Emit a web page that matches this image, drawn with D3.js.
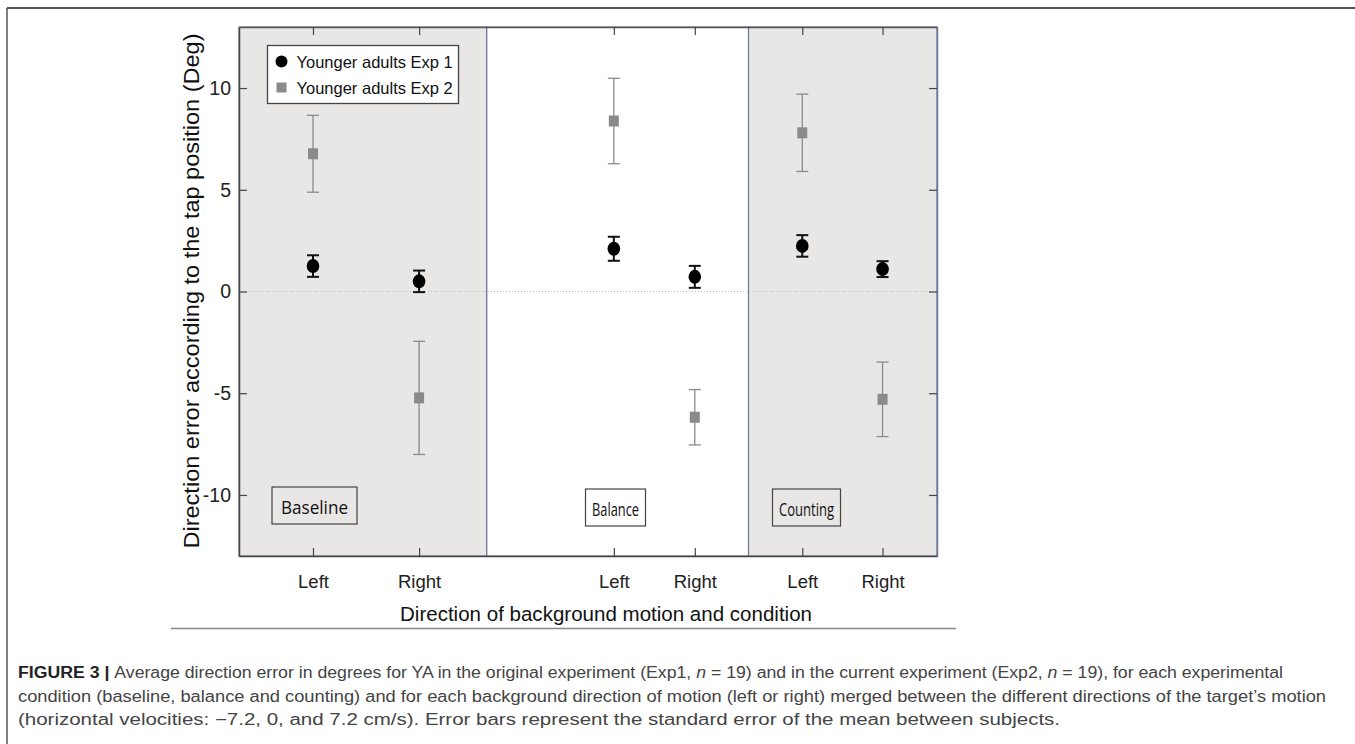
<!DOCTYPE html>
<html>
<head>
<meta charset="utf-8">
<script src="https://cdn.jsdelivr.net/npm/d3@7"></script>
<style>
    body { margin: 0; background: #fff; }
    text { font-family: "Liberation Sans", Arial, sans-serif; }
</style>
</head>
<body>
<script>
// data
var conditions = ['Baseline', 'Balance', 'Counting'],
    directions = ['Left', 'Right', 'Left', 'Right', 'Left', 'Right'],
    xPos = [1.06, 2.58, 5.37, 6.53, 8.07, 9.22],          // category positions on the x axis
    panelEdges = [0, 3.55, 7.3, 10],
    exp1Mean = [1.25, 0.5, 2.1, 0.72, 2.24, 1.1],
    exp1Se = [0.53, 0.53, 0.59, 0.54, 0.53, 0.39],
    exp2Mean = [6.77, -5.23, 8.38, -6.18, 7.8, -5.3],
    exp2Se = [1.89, 2.78, 2.1, 1.36, 1.9, 1.83],
    yTicks = [-10, -5, 0, 5, 10],
    legendLabels = ['Younger adults Exp 1', 'Younger adults Exp 2']

var margins = { top: 27, right: 418, bottom: 188, left: 239 },
    width = 1355, height = 744,
    plotW = width - margins.left - margins.right,
    plotH = height - margins.top - margins.bottom

var svg = d3.select('body').append('svg')
    .attr('width', width)
    .attr('height', height)

// figure frame
svg.append('line').attr('x1', 7).attr('x2', width).attr('y1', 8).attr('y2', 8)
    .attr('stroke', '#555').attr('stroke-width', 2)
svg.append('line').attr('x1', 7).attr('x2', 7).attr('y1', 8).attr('y2', height)
    .attr('stroke', '#555').attr('stroke-width', 1.5)

var x = d3.scaleLinear().domain([0, 10]).range([0, plotW]),
    y = d3.scaleLinear().domain([-13, 13]).range([plotH, 0])

var graph = svg.append('g').attr('transform', 'translate(' + margins.left + ',' + margins.top + ')')

// condition panels
graph.selectAll('rect.panel').data(conditions).enter().append('rect')
    .attr('class', 'panel')
    .attr('x', (d, i) => x(panelEdges[i]))
    .attr('y', 0)
    .attr('width', (d, i) => x(panelEdges[i + 1]) - x(panelEdges[i]))
    .attr('height', plotH)
    .attr('fill', (d, i) => i === 1 ? '#fff' : '#e9e6e6')
    .attr('stroke', '#6b7796')
    .attr('stroke-width', 1.2)

// zero line
graph.append('line')
    .attr('x1', 0).attr('x2', plotW)
    .attr('y1', y(0)).attr('y2', y(0))
    .attr('stroke', '#bbb').attr('stroke-width', 1).attr('stroke-dasharray', '1,2')

// axes, matlab style inward ticks
function styleAxis(g) {
    g.select('.domain').attr('stroke', '#444').attr('stroke-width', 1.5)
    g.selectAll('.tick line').attr('stroke', '#444').attr('stroke-width', 1.2)
    g.selectAll('.tick text').attr('fill', '#222')
}

var yLeft = graph.append('g')
    .call(d3.axisLeft(y).tickValues(yTicks).tickSize(-8).tickPadding(8).tickSizeOuter(0).tickFormat(d => String(d)))
yLeft.selectAll('.tick text').attr('font-size', 19.5).attr('font-family', '"Liberation Sans", Arial, sans-serif')
styleAxis(yLeft)

var yRight = graph.append('g').attr('transform', 'translate(' + plotW + ',0)')
    .call(d3.axisRight(y).tickValues(yTicks).tickSize(-8).tickFormat('').tickSizeOuter(0))
styleAxis(yRight)
yRight.select('.domain').attr('stroke', '#6b7796')

var xBottom = graph.append('g').attr('transform', 'translate(0,' + plotH + ')')
    .call(d3.axisBottom(x).tickValues(xPos).tickSize(-8).tickPadding(19).tickSizeOuter(0)
        .tickFormat((d, i) => directions[i]))
xBottom.selectAll('.tick text').attr('font-size', 18.5).attr('font-family', '"Liberation Sans", Arial, sans-serif')
styleAxis(xBottom)

var xTop = graph.append('g')
    .call(d3.axisTop(x).tickValues(xPos).tickSize(-8).tickFormat('').tickSizeOuter(0))
styleAxis(xTop)
xTop.select('.domain').attr('stroke', '#555')

// condition labels
var labelX = [272, 585.5, 772.5], labelW = [85, 60, 68], textW = [67, 47, 55]
conditions.forEach(function (c, i) {
    var g = svg.append('g').attr('transform', 'translate(' + labelX[i] + ',' + (i === 0 ? 487 : 489) + ')')
    g.append('rect').attr('width', labelW[i]).attr('height', 37)
        .attr('fill', i === 1 ? '#fff' : '#e9e6e6').attr('stroke', '#444').attr('stroke-width', 1.2)
    g.append('text').attr('x', (labelW[i] - textW[i]) / 2).attr('y', 26.5)
        .attr('textLength', textW[i]).attr('lengthAdjust', 'spacingAndGlyphs')
        .style('font-family', '"Open Sans", Lato, sans-serif')
        .attr('font-size', 19).attr('fill', '#111')
        .text(c)
})

// error bars
function errorBars(means, ses, color, strokeW, cls) {
    var g = graph.append('g').attr('class', cls)
    means.forEach(function (m, i) {
        var cx = x(xPos[i]), top = y(m + ses[i]), bot = y(m - ses[i])
        g.append('line').attr('x1', cx).attr('x2', cx).attr('y1', top).attr('y2', bot)
            .attr('stroke', color).attr('stroke-width', strokeW)
        ;[top, bot].forEach(function (yy) {
            g.append('line').attr('x1', cx - 6).attr('x2', cx + 6).attr('y1', yy).attr('y2', yy)
                .attr('stroke', color).attr('stroke-width', strokeW)
        })
    })
}

errorBars(exp2Mean, exp2Se, '#8a8a8a', 1.3, 'exp2')
errorBars(exp1Mean, exp1Se, '#111', 2, 'exp1')

graph.selectAll('rect.sq').data(exp2Mean).enter().append('rect')
    .attr('class', 'sq')
    .attr('x', (d, i) => x(xPos[i]) - 5)
    .attr('y', d => y(d) - 5.5)
    .attr('width', 10).attr('height', 11)
    .attr('fill', '#8a8a8a')

graph.selectAll('ellipse.dot').data(exp1Mean).enter().append('ellipse')
    .attr('class', 'dot')
    .attr('cx', (d, i) => x(xPos[i]))
    .attr('cy', d => y(d))
    .attr('rx', 6.3).attr('ry', 7)
    .attr('fill', '#000')

// legend
var legend = svg.append('g').attr('transform', 'translate(267.5,45.5)')
legend.append('rect').attr('width', 191).attr('height', 58)
    .attr('fill', '#fff').attr('stroke', '#444').attr('stroke-width', 1.3)
legend.append('circle').attr('cx', 14).attr('cy', 16).attr('r', 6).attr('fill', '#000')
legend.append('rect').attr('x', 9).attr('y', 37).attr('width', 10).attr('height', 10).attr('fill', '#8a8a8a')
legend.selectAll('text').data(legendLabels).enter().append('text')
    .attr('x', 29).attr('y', (d, i) => 22 + i * 26)
    .attr('font-size', 16.5).attr('fill', '#111')
    .text(d => d)

// axis titles
svg.append('text')
    .attr('transform', 'translate(199,291) rotate(-90)')
    .attr('text-anchor', 'middle')
    .attr('textLength', 515).attr('lengthAdjust', 'spacingAndGlyphs')
    .attr('font-size', 22).attr('fill', '#111')
    .text('Direction error according to the tap position (Deg)')

svg.append('text')
    .attr('x', 606).attr('y', 621)
    .attr('text-anchor', 'middle')
    .attr('textLength', 412).attr('lengthAdjust', 'spacingAndGlyphs')
    .attr('font-size', 20.5).attr('fill', '#111')
    .text('Direction of background motion and condition')

svg.append('line').attr('x1', 171).attr('x2', 956).attr('y1', 628.5).attr('y2', 628.5)
    .attr('stroke', '#888').attr('stroke-width', 1.5)

// caption
var caption = svg.append('g').attr('font-size', 16).attr('fill', '#444')
var l1 = caption.append('text').attr('x', 18).attr('y', 678).attr('textLength', 1265).attr('lengthAdjust', 'spacingAndGlyphs')
l1.append('tspan').attr('font-weight', 'bold').attr('fill', '#222').text('FIGURE 3 | ')
l1.append('tspan').text('Average direction error in degrees for YA in the original experiment (Exp1, ')
l1.append('tspan').attr('font-style', 'italic').text('n')
l1.append('tspan').text(' = 19) and in the current experiment (Exp2, ')
l1.append('tspan').attr('font-style', 'italic').text('n')
l1.append('tspan').text(' = 19), for each experimental')
caption.append('text').attr('x', 18).attr('y', 702).attr('textLength', 1308).attr('lengthAdjust', 'spacingAndGlyphs')
    .text('condition (baseline, balance and counting) and for each background direction of motion (left or right) merged between the different directions of the target\u2019s motion')
caption.append('text').attr('x', 18).attr('y', 725).attr('textLength', 1042).attr('lengthAdjust', 'spacingAndGlyphs')
    .text('(horizontal velocities: \u22127.2, 0, and 7.2 cm/s). Error bars represent the standard error of the mean between subjects.')
</script>
</body>
</html>
